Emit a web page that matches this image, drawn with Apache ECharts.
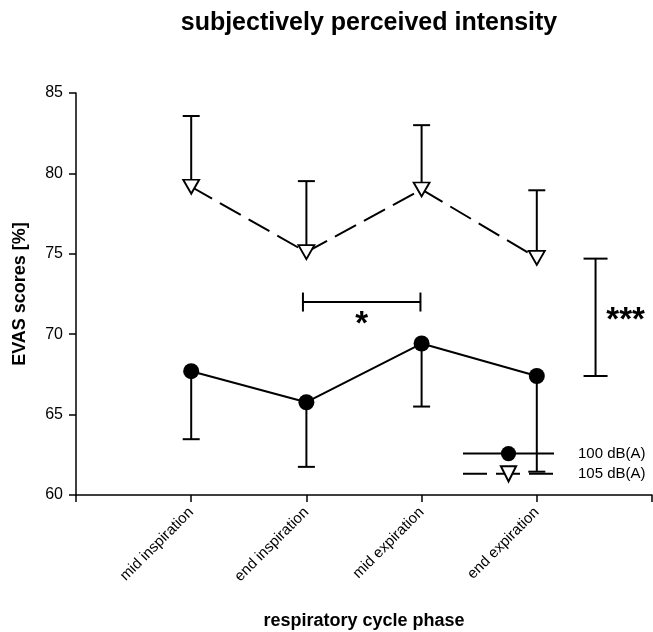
<!DOCTYPE html>
<html>
<head>
<meta charset="utf-8">
<script src="https://cdn.jsdelivr.net/npm/echarts@6/dist/echarts.min.js"></script>
<style>
html,body{margin:0;padding:0;background:#fff;}
#chart{width:653px;height:632px;}
</style>
</head>
<body>
<div id="chart"></div>
<script>
// ---- data ----
const categories = ['mid inspiration', 'end inspiration', 'mid expiration', 'end expiration'];
const xPos = [1, 2, 3, 4];
const yTicks = [60, 65, 70, 75, 80, 85];
const seriesNames = ['100 dB(A)', '105 dB(A)'];
const mean100 = [67.7, 65.77, 69.42, 67.4];
const errEnd100 = [63.47, 61.75, 65.5, 61.45];   // lower ends of error bars
const mean105 = [79.17, 75.1, 79.0, 74.75];
const errEnd105 = [83.57, 79.52, 83.0, 78.95];   // upper ends of error bars
// significance annotations
const sigStarX = [1.97, 2.99];
const sigStarY = 72.0;
const sigStarText = '*';
const sigTripleX = 4.51;
const sigTripleY = [67.4, 74.7];
const sigTripleText = '***';

const FONT = '"Liberation Sans", Arial, Helvetica, sans-serif';

const chart = echarts.init(document.getElementById('chart'), null, {renderer: 'canvas'});

function pairs(xs, ys) { return xs.map((x, i) => [x, ys[i]]); }
function triples(xs, ys, es) { return xs.map((x, i) => [x, ys[i], es[i]]); }

function renderErr(params, api) {
  const x = api.value(0), y0 = api.value(1), y1 = api.value(2);
  const p0 = api.coord([x, y0]);
  const p1 = api.coord([x, y1]);
  const st = {stroke: '#000', lineWidth: 2};
  return {type: 'group', children: [
    {type: 'line', shape: {x1: p0[0], y1: p0[1], x2: p1[0], y2: p1[1]}, style: st},
    {type: 'line', shape: {x1: p1[0] - 8.5, y1: p1[1], x2: p1[0] + 8.5, y2: p1[1]}, style: st}
  ]};
}

function renderSig(params, api) {
  const st = {stroke: '#000', lineWidth: 2};
  const a = api.coord([sigStarX[0], sigStarY]);
  const b = api.coord([sigStarX[1], sigStarY]);
  const t = api.coord([sigTripleX, sigTripleY[1]]);
  const u = api.coord([sigTripleX, sigTripleY[0]]);
  const txtFont = 'bold 33px ' + FONT;
  return {type: 'group', children: [
    {type: 'line', shape: {x1: a[0], y1: a[1], x2: b[0], y2: b[1]}, style: st},
    {type: 'line', shape: {x1: a[0], y1: a[1] - 9.5, x2: a[0], y2: a[1] + 9.5}, style: st},
    {type: 'line', shape: {x1: b[0], y1: b[1] - 9.5, x2: b[0], y2: b[1] + 9.5}, style: st},
    {type: 'text', x: (a[0] + b[0]) / 2, y: a[1] + 23,
      style: {text: sigStarText, font: txtFont, fill: '#000', align: 'center', verticalAlign: 'middle'}},
    {type: 'line', shape: {x1: t[0], y1: t[1], x2: u[0], y2: u[1]}, style: st},
    {type: 'line', shape: {x1: t[0] - 12, y1: t[1], x2: t[0] + 12, y2: t[1]}, style: st},
    {type: 'line', shape: {x1: u[0] - 12, y1: u[1], x2: u[0] + 12, y2: u[1]}, style: st},
    {type: 'text', x: t[0] + 30, y: (t[1] + u[1]) / 2 + 4,
      style: {text: sigTripleText, font: txtFont, fill: '#000', align: 'center', verticalAlign: 'middle'}}
  ]};
}

const option = {
  animation: false,
  backgroundColor: '#fff',
  title: {
    text: 'subjectively perceived intensity',
    left: 364, top: 6, textAlign: 'center',
    textStyle: {fontFamily: FONT, fontWeight: 'bold', fontSize: 25, color: '#000'}
  },
  legend: {
    data: seriesNames,
    orient: 'vertical',
    left: 457, top: 441,
    itemWidth: 91, itemHeight: 19, itemGap: 4,
    textStyle: {fontFamily: FONT, fontSize: 15, color: '#000', padding: [0, 0, 0, 19]},
    selectedMode: false
  },
  grid: {left: 76, right: 1, top: 93, bottom: 137, containLabel: false, outerBoundsMode: 'none'},
  xAxis: {
    type: 'value', min: 0, max: 5, interval: 1,
    name: 'respiratory cycle phase', nameLocation: 'middle', nameGap: 117,
    nameTextStyle: {fontFamily: FONT, fontWeight: 'bold', fontSize: 18, color: '#000'},
    axisLine: {show: true, lineStyle: {color: '#000', width: 1.5}},
    axisTick: {show: true, length: 7, lineStyle: {color: '#000', width: 1.5}},
    splitLine: {show: false},
    axisLabel: {
      rotate: 45, margin: 15, fontFamily: FONT, fontSize: 15, color: '#000',
      formatter: v => (v >= 1 && v <= categories.length) ? categories[v - 1] : ''
    }
  },
  yAxis: {
    type: 'value', min: yTicks[0], max: yTicks[yTicks.length - 1], interval: 5,
    name: 'EVAS scores [%]', nameLocation: 'middle', nameGap: 47,
    nameTextStyle: {fontFamily: FONT, fontWeight: 'bold', fontSize: 18, color: '#000'},
    axisLine: {show: true, lineStyle: {color: '#000', width: 1.5}},
    axisTick: {show: true, length: 7, lineStyle: {color: '#000', width: 1.5}},
    splitLine: {show: false},
    axisLabel: {margin: 13, fontFamily: FONT, fontSize: 16, color: '#000'}
  },
  series: [
    {
      type: 'custom', name: 'err100', z: 1, silent: true,
      renderItem: renderErr, data: triples(xPos, mean100, errEnd100)
    },
    {
      type: 'custom', name: 'err105', z: 1, silent: true,
      renderItem: renderErr, data: triples(xPos, mean105, errEnd105)
    },
    {
      type: 'custom', name: 'sig', z: 1, silent: true,
      renderItem: renderSig, data: [[0, 0]]
    },
    {
      type: 'line', name: seriesNames[0], z: 3,
      data: pairs(xPos, mean100),
      symbol: 'circle', symbolSize: 16,
      itemStyle: {color: '#000'},
      lineStyle: {color: '#000', width: 2, type: 'solid'}
    },
    {
      type: 'line', name: seriesNames[1], z: 3,
      data: pairs(xPos, mean105),
      symbol: 'triangle', symbolRotate: 180, symbolSize: [16, 14],
      itemStyle: {color: '#fff', borderColor: '#000', borderWidth: 1.8},
      lineStyle: {color: '#000', width: 2, type: [24, 9]}
    }
  ]
};
chart.setOption(option);
</script>
</body>
</html>
